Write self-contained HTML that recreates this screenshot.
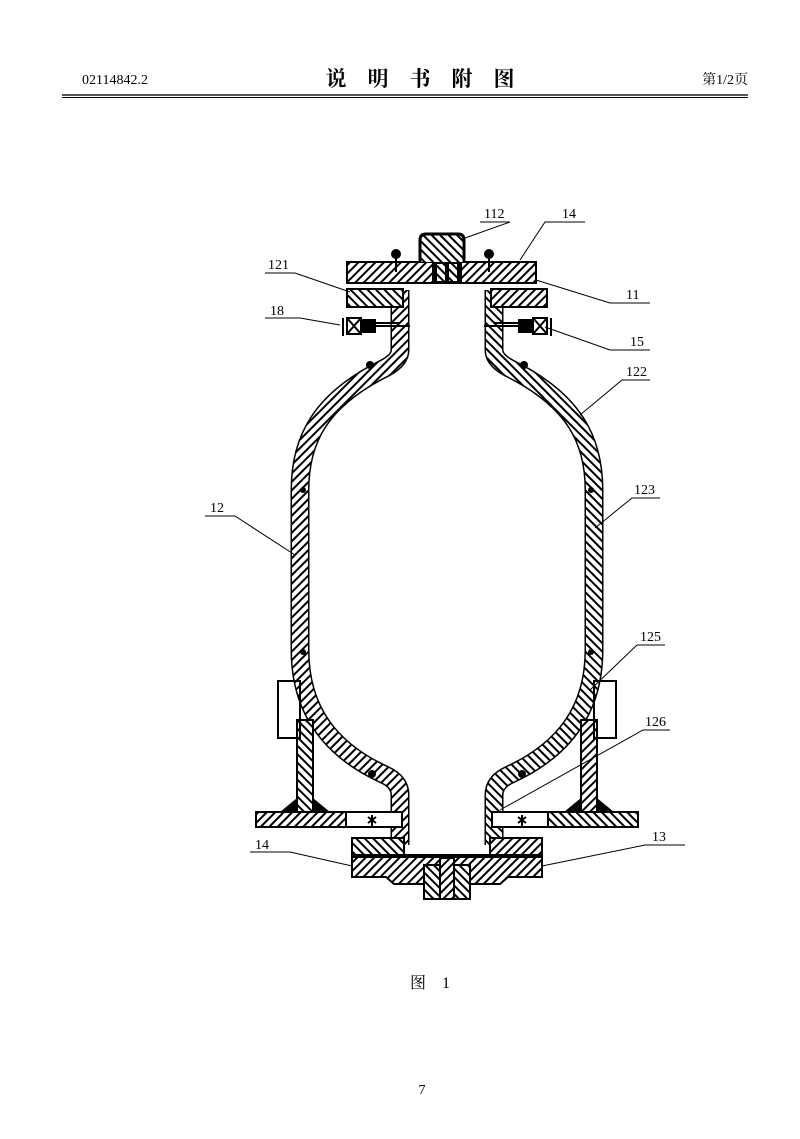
<!DOCTYPE html>
<html><head><meta charset="utf-8"><style>
html,body{margin:0;padding:0;background:#fff;width:800px;height:1139px;overflow:hidden}
svg{display:block}
text{font-family:"Liberation Serif","Noto Serif CJK SC",serif;fill:#000}
.lbl{font-family:"Liberation Sans",sans-serif;font-size:14px}
</style></head><body>
<svg width="800" height="1139" viewBox="0 0 800 1139" xmlns="http://www.w3.org/2000/svg">
<defs>
<pattern id="h" width="6" height="6" patternUnits="userSpaceOnUse" patternTransform="rotate(45)">
<rect width="6" height="6" fill="#fff"/><rect width="2" height="6" fill="#000"/></pattern>
<pattern id="h2" width="6" height="6" patternUnits="userSpaceOnUse" patternTransform="rotate(-45)">
<rect width="6" height="6" fill="#fff"/><rect width="2" height="6" fill="#000"/></pattern>
</defs>
<text x="82" y="84" font-size="14">02114842.2</text>
<text x="420" y="86" font-size="21" font-weight="bold" text-anchor="middle" font-family="Noto Sans CJK SC,sans-serif">说　明　书　附　图</text>
<text x="748" y="84" font-size="14" text-anchor="end">第1/2页</text>
<line x1="62" y1="95" x2="748" y2="95" stroke="#555" stroke-width="2"/>
<line x1="62" y1="97.5" x2="748" y2="97.5" stroke="#000" stroke-width="1"/>

<g id="L">
<!-- shell -->
<path d="M400 290 L400 350 Q400 360 385 368 C320 400 300 440 300 490 L300 650 C300 710 330 750 385 775 Q400 782 400 795 L400 845" fill="none" stroke="#000" stroke-width="19"/>
<path d="M400 290 L400 350 Q400 360 385 368 C320 400 300 440 300 490 L300 650 C300 710 330 750 385 775 Q400 782 400 795 L400 845" fill="none" stroke="url(#h)" stroke-width="16"/>
<!-- upper flange 121 -->
<rect x="347" y="289" width="56" height="18" fill="url(#h2)" stroke="#000" stroke-width="2"/>
<!-- lower flange -->
<rect x="352" y="838" width="52" height="18" fill="url(#h2)" stroke="#000" stroke-width="2"/>
<!-- support -->
<rect x="297" y="720" width="16" height="94" fill="url(#h2)" stroke="#000" stroke-width="2"/>
<rect x="256" y="812" width="146" height="15" fill="#fff" stroke="#000" stroke-width="2"/>
<rect x="256" y="812" width="90" height="15" fill="url(#h)" stroke="#000" stroke-width="2"/>
<polygon points="297,798 280,812 297,812" fill="#000"/><polygon points="313,798 330,812 313,812" fill="#000"/>
<rect x="278" y="681" width="22" height="57" fill="none" stroke="#000" stroke-width="2"/>
<path d="M372 815 L372 828 M368 817 L376 823 M376 817 L368 823" stroke="#000" stroke-width="2"/>
<!-- valve -->
<g stroke="#000" stroke-width="2" fill="none">
<line x1="343" y1="318" x2="343" y2="336"/>
<rect x="347" y="318" width="14" height="16"/>
<path d="M347 318 L361 334 M361 318 L347 334"/>
<rect x="363" y="320" width="12" height="12" fill="#000"/>
<line x1="375" y1="326" x2="410" y2="326"/>
<line x1="375" y1="323" x2="400" y2="323"/>
</g>
<!-- black welds -->
<circle cx="370" cy="365" r="4"/><circle cx="303" cy="490" r="3"/><circle cx="303" cy="652" r="3"/><circle cx="372" cy="774" r="4"/>
</g>
<use href="#L" transform="translate(894,0) scale(-1,1)"/>
<!-- top plate 14 -->
<rect x="347" y="262" width="189" height="21" fill="url(#h)" stroke="#000" stroke-width="2"/>
<rect x="432" y="262" width="30" height="21" fill="#000"/>
<rect x="437" y="264" width="8" height="17" fill="url(#h2)"/>
<rect x="449" y="264" width="8" height="17" fill="url(#h2)"/>
<!-- cap 112 -->
<path d="M420 262 L420 240 Q420 234 426 234 L458 234 Q464 234 464 240 L464 262" fill="url(#h2)" stroke="#000" stroke-width="3"/>
<circle cx="396" cy="254" r="5"/><line x1="396" y1="258" x2="396" y2="272" stroke="#000" stroke-width="2"/>
<circle cx="489" cy="254" r="5"/><line x1="489" y1="258" x2="489" y2="272" stroke="#000" stroke-width="2"/>
<!-- bottom plate -->
<path d="M352 856 L542 856 L542 877 L508 877 L500 884 L394 884 L386 877 L352 877 Z" fill="url(#h)" stroke="#000" stroke-width="2"/>
<line x1="352" y1="856" x2="542" y2="856" stroke="#000" stroke-width="4"/>
<rect x="424" y="865" width="46" height="34" fill="url(#h2)" stroke="#000" stroke-width="2"/>
<rect x="440" y="858" width="14" height="41" fill="url(#h)" stroke="#000" stroke-width="2"/>
<!-- leaders -->
<g stroke="#000" stroke-width="1" fill="none">
<path d="M480 222 L510 222 L465 238"/>
<path d="M585 222 L545 222 L520 260"/>
<path d="M265 273 L295 273 L350 292"/>
<path d="M650 303 L610 303 L536 280"/>
<path d="M265 318 L300 318 L340 325"/>
<path d="M650 350 L610 350 L545 327"/>
<path d="M650 380 L622 380 L580 415"/>
<path d="M660 498 L632 498 L595 528"/>
<path d="M205 516 L235 516 L295 555"/>
<path d="M665 645 L637 645 L590 690"/>
<path d="M670 730 L643 730 L500 810"/>
<path d="M250 852 L290 852 L352 866"/>
<path d="M685 845 L645 845 L542 866"/>
</g>
<g class="lbl">
<text x="484" y="218">112</text><text x="562" y="218">14</text>
<text x="268" y="269">121</text><text x="626" y="299">11</text>
<text x="270" y="315">18</text><text x="630" y="346">15</text>
<text x="626" y="376">122</text><text x="634" y="494">123</text>
<text x="210" y="512">12</text><text x="640" y="641">125</text>
<text x="645" y="726">126</text><text x="255" y="849">14</text>
<text x="652" y="841">13</text>
</g>
<text x="430" y="988" font-size="16" text-anchor="middle" font-family="Noto Sans CJK SC,sans-serif">图　1</text>
<text x="422" y="1094" font-size="14" text-anchor="middle">7</text>
</svg>
</body></html>
